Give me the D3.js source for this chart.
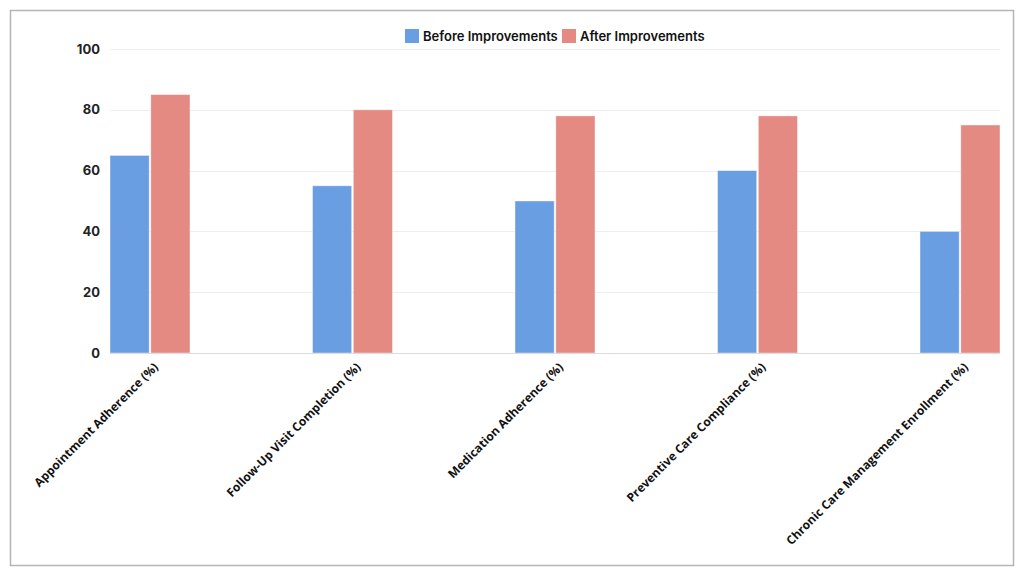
<!DOCTYPE html>
<html>
<head>
<meta charset="utf-8">
<script src="https://cdn.jsdelivr.net/npm/d3@7"></script>
<style>
  body { margin: 0; background: #fff; }
  svg { display: block; }
</style>
</head>
<body>
<div class="chart"></div>
<script>
var categories = [
  "Appointment Adherence (%)",
  "Follow-Up Visit Completion (%)",
  "Medication Adherence (%)",
  "Preventive Care Compliance (%)",
  "Chronic Care Management Enrollment (%)"
];
var seriesNames = ["Before Improvements", "After Improvements"];
var beforeValues = [65, 55, 50, 60, 40];
var afterValues = [85, 80, 78, 78, 75];
var yTicks = [0, 20, 40, 60, 80, 100];
var colors = ["#6a9ee3", "#e58a82"];

var width = 1024, height = 576;

var svg = d3.select(".chart").append("svg")
    .attr("width", width)
    .attr("height", height);

// outer frame
svg.append("rect")
    .attr("x", 10.5).attr("y", 10.5)
    .attr("width", 1003).attr("height", 555)
    .attr("fill", "none")
    .attr("stroke", "#b5b5b5")
    .attr("stroke-width", 1.5);

var x = d3.scaleBand()
    .domain(categories)
    .range([110, 1000])
    .paddingInner(0.605)
    .paddingOuter(0);

var xSub = d3.scaleBand()
    .domain(seriesNames)
    .range([0, x.bandwidth()])
    .paddingInner(0.04);

var y = d3.scaleLinear()
    .domain([0, 100])
    .range([353, 49]);

// grid lines
svg.append("g")
    .selectAll("line")
    .data(yTicks.slice(1))
    .enter()
        .append("line")
        .attr("x1", 110)
        .attr("x2", 1000)
        .attr("y1", function(d) { return Math.round(y(d)) + 0.5; })
        .attr("y2", function(d) { return Math.round(y(d)) + 0.5; })
        .attr("stroke", "#eeeeee")
        .attr("stroke-width", 1);

// y axis labels
var yAxis = svg.append("g")
    .attr("transform", "translate(110,0)")
    .call(d3.axisLeft(y).tickValues(yTicks).tickSize(0).tickPadding(10));
yAxis.select(".domain").remove();
yAxis.selectAll("text")
    .attr("font-family", "Inter, 'Noto Sans', sans-serif")
    .attr("font-weight", 700)
    .attr("font-size", 13)
    .attr("fill", "#222");

// bars
var groups = svg.append("g")
    .selectAll("g")
    .data(categories)
    .enter()
        .append("g")
        .attr("transform", function(d) { return "translate(" + x(d) + ",0)"; });

groups.selectAll("rect")
    .data(function(d, i) {
        return [
            { key: seriesNames[0], value: beforeValues[i] },
            { key: seriesNames[1], value: afterValues[i] }
        ];
    })
    .enter()
        .append("rect")
        .attr("x", function(d) { return xSub(d.key); })
        .attr("y", function(d) { return y(d.value); })
        .attr("width", xSub.bandwidth())
        .attr("height", function(d) { return y(0) - y(d.value); })
        .attr("fill", function(d, i) { return colors[i]; })
        .attr("stroke", "#ffffff")
        .attr("stroke-opacity", 0.5)
        .attr("stroke-width", 0.8);

// baseline
svg.append("line")
    .attr("x1", 110).attr("x2", 1000)
    .attr("y1", y(0) + 0.5).attr("y2", y(0) + 0.5)
    .attr("stroke", "#dcdcdc")
    .attr("stroke-width", 1);

// x labels
var xAxis = svg.append("g")
    .attr("transform", "translate(0," + y(0) + ")")
    .call(d3.axisBottom(x).tickSize(0).tickPadding(0));
xAxis.select(".domain").remove();
xAxis.selectAll("text")
    .attr("font-family", "'Open Sans', 'Noto Sans', sans-serif")
    .attr("font-weight", 700)
    .attr("font-size", 12)
    .attr("fill", "#111")
    .attr("text-anchor", "end")
    .attr("dy", "0.35em")
    .attr("transform", "translate(6,12) rotate(-45)");

// legend
var legend = svg.append("g")
    .attr("font-family", "Inter, 'Noto Sans', sans-serif")
    .attr("font-weight", 600)
    .attr("font-size", 13);
var legendX = [405, 562];
seriesNames.forEach(function(name, i) {
    legend.append("rect")
        .attr("x", legendX[i]).attr("y", 29)
        .attr("width", 14).attr("height", 14)
        .attr("fill", colors[i]);
    legend.append("text")
        .attr("x", legendX[i] + 18).attr("y", 36)
        .attr("dy", "0.35em")
        .attr("fill", "#111")
        .text(name);
});
</script>
</body>
</html>
